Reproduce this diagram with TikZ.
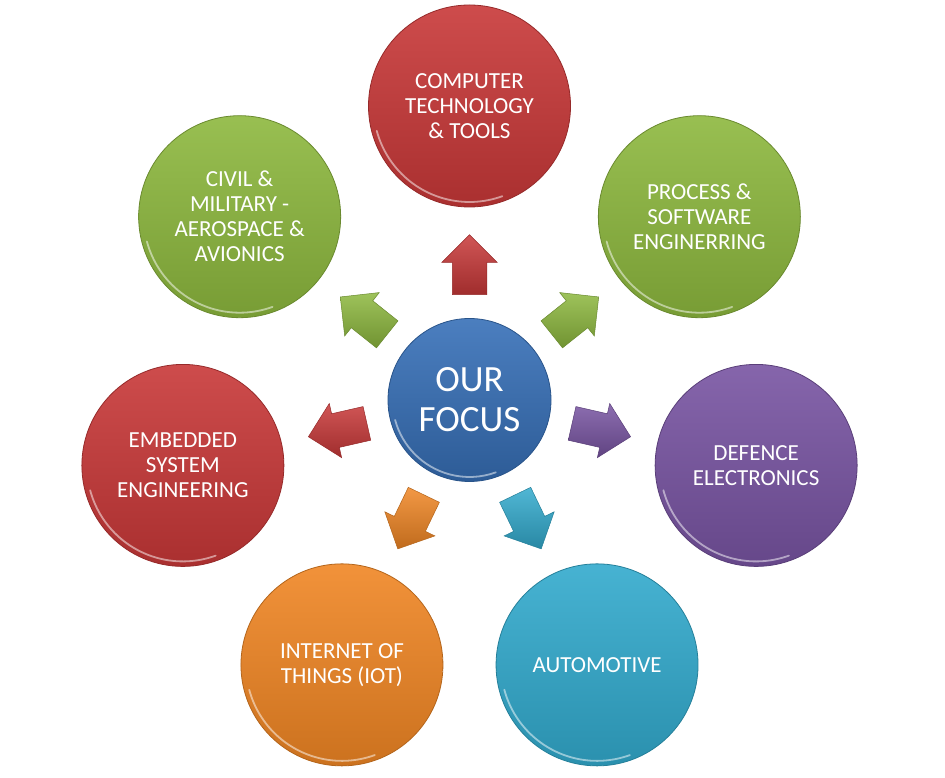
\documentclass[tikz,border=0pt]{standalone}
\usepackage{fontspec}
\setmainfont{Carlito}
\usetikzlibrary{shapes.arrows,calc}
\definecolor{TopicRed}{RGB}{200,56,56}
\definecolor{TopicGreen}{RGB}{141,184,62}
\definecolor{TopicPurple}{RGB}{120,84,162}
\definecolor{TopicTeal}{RGB}{50,170,205}
\definecolor{TopicOrange}{RGB}{240,134,36}
\definecolor{FocusBlue}{RGB}{55,112,184}

\tikzset{
  topic/.style={circle, minimum size=202pt, inner sep=0pt, align=center,
    text=white, font=\fontsize{23}{25}\selectfont,
    top color=#1!90!white, bottom color=#1!85!black, draw=#1!75!black, line width=0.8pt},
  focus/.style={circle, minimum size=163pt, inner sep=0pt, align=center,
    text=white, font=\fontsize{37}{40}\selectfont,
    top color=#1!90!white, bottom color=#1!82!black, draw=#1!75!black, line width=0.8pt},
  pointer/.style={single arrow, minimum height=60pt, minimum width=55pt,
    single arrow head extend=10.5pt, single arrow tip angle=90,
    inner xsep=0pt, inner ysep=17pt, anchor=tail,
    top color=#1!85!white, bottom color=#1!80!black, draw=#1!75!black, line width=0.5pt},
  gloss/.style={white, opacity=0.5, line width=1.8pt, line cap=round}
}

\begin{document}
\begin{tikzpicture}[x=1pt,y=1pt]
\fill[white] (0,0) rectangle (945,778);
\useasboundingbox (0,0) rectangle (945,778);

\node[focus=FocusBlue] (focus) at (469.5,378) {OUR\\FOCUS};
\draw[gloss] (focus.center) ++(195:77) arc[start angle=195, end angle=290, radius=77];

% topics round the focus, one every 360/7 degrees
\foreach \name/\col/\txt [count=\i from 0] in {
    tech/TopicRed/{COMPUTER\\TECHNOLOGY\\\& TOOLS},
    process/TopicGreen/{PROCESS \&\\SOFTWARE\\ENGINERRING},
    defence/TopicPurple/{DEFENCE\\ELECTRONICS},
    auto/TopicTeal/{AUTOMOTIVE},
    iot/TopicOrange/{INTERNET OF\\THINGS (IOT)},
    embedded/TopicRed/{EMBEDDED\\SYSTEM\\ENGINEERING},
    aero/TopicGreen/{CIVIL \&\\MILITARY -\\AEROSPACE \&\\AVIONICS}}
{
  \pgfmathsetmacro\ang{90-\i*360/7}
  \node[topic=\col] (\name) at ($(focus)+(\ang:294)$) {\txt};
  \draw[gloss] (\name.center) ++(195:96) arc[start angle=195, end angle=290, radius=96];
  \node[pointer=\col, rotate=\ang] (\name-arrow) at ($(focus)!105pt!(\name)$) {};
}

\end{tikzpicture}
\end{document}
